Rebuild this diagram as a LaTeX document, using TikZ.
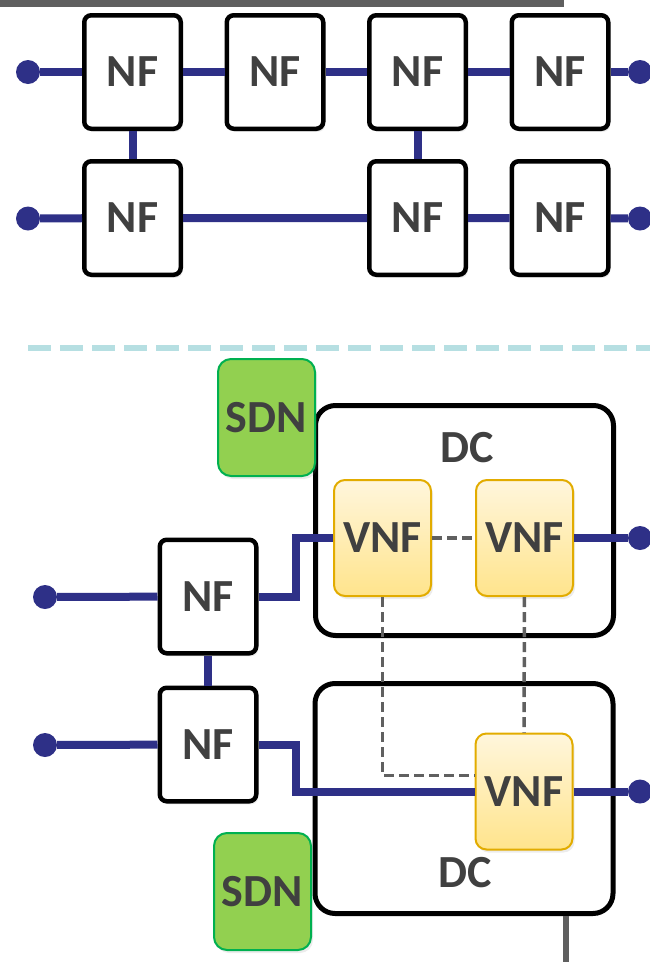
\documentclass[tikz,border=0pt]{standalone}
\usepackage{fontspec}
\setmainfont{Carlito}
\usepackage{tikz}
\usetikzlibrary{positioning, shadows}

\definecolor{linkblue}{HTML}{2E3087}
\definecolor{txtgray}{HTML}{404040}
\definecolor{bargray}{HTML}{5F5F5F}
\definecolor{dashgray}{HTML}{606060}
\definecolor{sepcyan}{HTML}{B6DFE2}
\definecolor{sdngreen}{HTML}{92D050}
\definecolor{sdnborder}{HTML}{00B050}
\definecolor{vnftop}{HTML}{FFF6DC}
\definecolor{vnfbot}{HTML}{FFE48C}
\definecolor{vnfborder}{HTML}{E2AC00}

\begin{document}
\begin{tikzpicture}[
  x=1pt, y=-1pt,
  node distance=41.5pt,
  boxfont/.style={font=\fontsize{46}{46}\selectfont\bfseries, text=txtgray},
  nf/.style={rectangle, draw, line width=4.5pt, rounded corners=7pt, fill=white, minimum width=96.5pt, minimum height=113.5pt, inner sep=0pt, boxfont,
    drop shadow={shadow xshift=2pt, shadow yshift=-3pt, opacity=0.15}},
  vnf/.style={rectangle, draw=vnfborder, line width=2pt, rounded corners=11pt, top color=vnftop, bottom color=vnfbot, minimum width=97pt, minimum height=116pt, inner sep=0pt, boxfont,
    drop shadow={shadow xshift=2pt, shadow yshift=-3pt, opacity=0.15}},
  sdn/.style={rectangle, draw=sdnborder, line width=2pt, rounded corners=13pt, fill=sdngreen, minimum width=97pt, minimum height=117pt, inner sep=0pt, boxfont,
    drop shadow={shadow xshift=2pt, shadow yshift=-3pt, opacity=0.15}},
  dc/.style={rectangle, draw, line width=5pt, rounded corners=20pt, minimum width=298pt, minimum height=230pt},
  dclabel/.style={boxfont},
  dot/.style={circle, fill=linkblue, minimum size=24pt, inner sep=0pt},
  link/.style={draw=linkblue, line width=8pt},
  ctrl/.style={draw=dashgray, line width=3.5pt, dash pattern=on 10pt off 5pt}
]
\useasboundingbox (0,0) rectangle (650,962);

% legacy chains
\fill[bargray] (0,0) rectangle (564,7);

\node[nf] (nf11) at (132.5,72) {NF};
\node[nf, right=of nf11] (nf12) {NF};
\node[nf, right=of nf12] (nf13) {NF};
\node[nf, right=of nf13] (nf14) {NF};
\node[nf, below=28pt of nf11] (nf21) {NF};
\node[nf, below=28pt of nf13] (nf23) {NF};
\node[nf, below=28pt of nf14] (nf24) {NF};

\node[dot] (in1) at (28,72) {};
\node[dot] (out1) at (640,72) {};
\node[dot] (in2) at (28,218.5) {};
\node[dot] (out2) at (640,218.5) {};

\draw[link] (in1) -- (nf11) (nf11) -- (nf12) (nf12) -- (nf13) (nf13) -- (nf14) (nf14) -- (out1);
\draw[link] (in2) -- (nf21) (nf21) -- (nf23) (nf23) -- (nf24) (nf24) -- (out2);
\draw[link] (nf11) -- (nf21);
\draw[link] (nf13) -- (nf23);

% separator
\draw[sepcyan, line width=6pt, dash pattern=on 23pt off 9pt] (28,348) -- (650,348);

% virtualised chains
\node[dc] (dc1) at (464.5,520.5) {};
\node[dc] (dc2) at (464,798.5) {};
\node[dclabel] (dctop) at (467,448) {DC};
\node[dclabel] (dcbot) at (465,873) {DC};
\fill[bargray] (563,916) rectangle (569,962);

\node[sdn] (sdn1) at (266.5,417.5) {SDN};
\node[sdn] (sdn2) at (262.5,891.5) {SDN};

\node[nf] (nfa) at (208,596.5) {NF};
\node[nf] (nfb) at (208,744.5) {NF};

\node[vnf] (vnf1) at (382.5,538) {VNF};
\node[vnf] (vnf2) at (524.5,538) {VNF};
\node[vnf] (vnf3) at (524,791.5) {VNF};

\node[dot] (in3) at (45,597) {};
\node[dot] (in4) at (45,745) {};
\node[dot] (out3) at (640,538) {};
\node[dot] (out4) at (640,791.5) {};

\draw[ctrl] (vnf1) -- (vnf2);
\draw[ctrl] (vnf1.south) |- ([yshift=16pt]vnf3.west);
\draw[ctrl] (vnf2) -- (vnf3);

\draw[link] (in3) -- (nfa);
\draw[link] (in4) -- (nfb);
\draw[link] (nfa) -- (nfb);
\draw[link] (nfa.east) -- ++(37,0) |- (vnf1.west);
\draw[link] (nfb.east) -- ++(37,0) |- (vnf3.west);
\draw[link] (vnf2) -- (out3);
\draw[link] (vnf3) -- (out4);

\end{tikzpicture}
\end{document}
